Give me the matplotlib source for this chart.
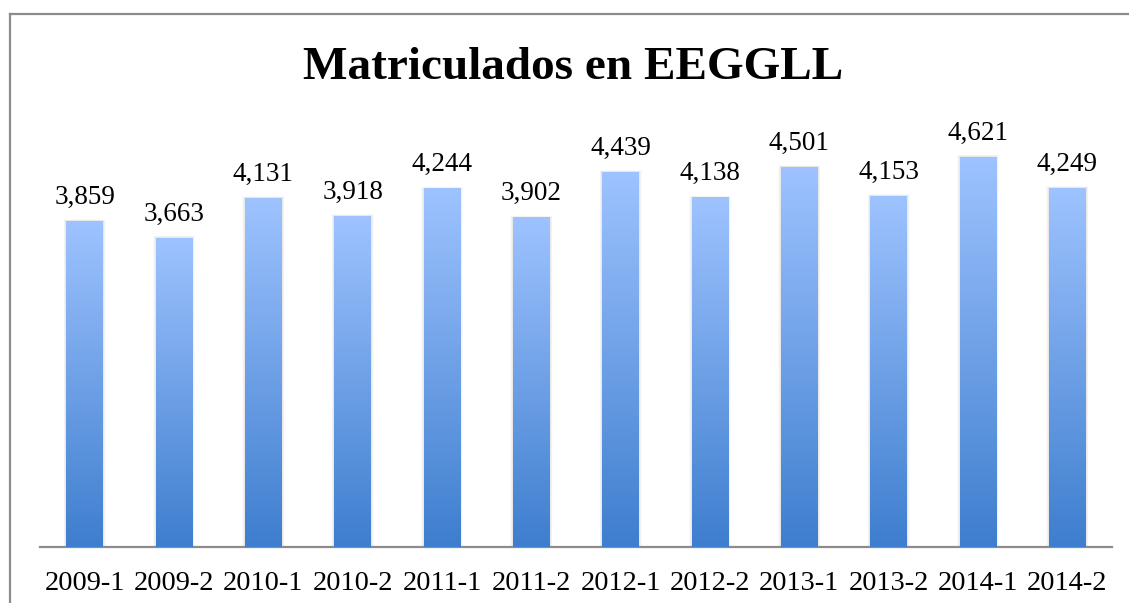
import matplotlib
matplotlib.use("Agg")
import matplotlib.pyplot as plt
import numpy as np
from matplotlib.patches import Rectangle
from matplotlib.lines import Line2D
from matplotlib.colors import LinearSegmentedColormap

categories = ["2009-1", "2009-2", "2010-1", "2010-2", "2011-1", "2011-2",
              "2012-1", "2012-2", "2013-1", "2013-2", "2014-1", "2014-2"]
values = [3859, 3663, 4131, 3918, 4244, 3902, 4439, 4138, 4501, 4153, 4621, 4249]
title = "Matriculados en EEGGLL"

FONT = "Liberation Serif"
W, H = 1129, 603
fig = plt.figure(figsize=(W / 100, H / 100), dpi=100)

ax = fig.add_axes([40 / W, 56 / H, (1112 - 40) / W, 422.4 / H])
ax.set_xlim(-0.5, len(categories) - 0.5)
ax.set_ylim(0, 5000)

cmap = LinearSegmentedColormap.from_list("g", ["#3E7ECE", "#9EC3FF"])
grad = np.linspace(0, 1, 256).reshape(-1, 1)
bw = 0.41
x = np.arange(len(categories))
bars = ax.bar(x, values, width=bw, color="none", zorder=3)
for b, v in zip(bars, values):
    x0 = b.get_x()
    # soft shadow
    for k, a in [(0.05, 0.02), (0.035, 0.03), (0.02, 0.04)]:
        ax.add_patch(Rectangle((x0 - k * 0.6, 0), bw + 2 * k * 0.6, v + k * 400,
                               facecolor="#000000", alpha=a, edgecolor="none", zorder=2))
    im = ax.imshow(grad, extent=[x0, x0 + bw, 0, v], origin="lower", aspect="auto",
                   cmap=cmap, vmin=0, vmax=1, zorder=3)
    im.set_clip_path(b)
    ax.annotate(f"{v:,}", (b.get_x() + bw / 2, v), xytext=(0, 8), textcoords="offset points",
                ha="center", va="bottom", fontsize=19.5, family=FONT, color="black")

for s in ["top", "right", "left"]:
    ax.spines[s].set_visible(False)
ax.spines["bottom"].set_color("#8C8C8C")
ax.spines["bottom"].set_linewidth(1.6)
ax.set_yticks([])
ax.set_xticks(x)
ax.set_xticklabels(categories, family=FONT, fontsize=20.5)
ax.tick_params(axis="x", length=0, pad=17)
ax.set_aspect("auto")

fig.text(573 / W, 1 - 68 / H, title, ha="center", va="center", fontsize=34,
         fontweight="bold", family=FONT)

# outer frame
fig.add_artist(Line2D([10 / W, 10 / W], [0, 1 - 14 / H], color="#8C8C8C", lw=1.6,
                      transform=fig.transFigure))
fig.add_artist(Line2D([10 / W, 1], [1 - 14 / H, 1 - 14 / H], color="#8C8C8C", lw=1.6,
                      transform=fig.transFigure))

fig.savefig("out.png", dpi=100)
